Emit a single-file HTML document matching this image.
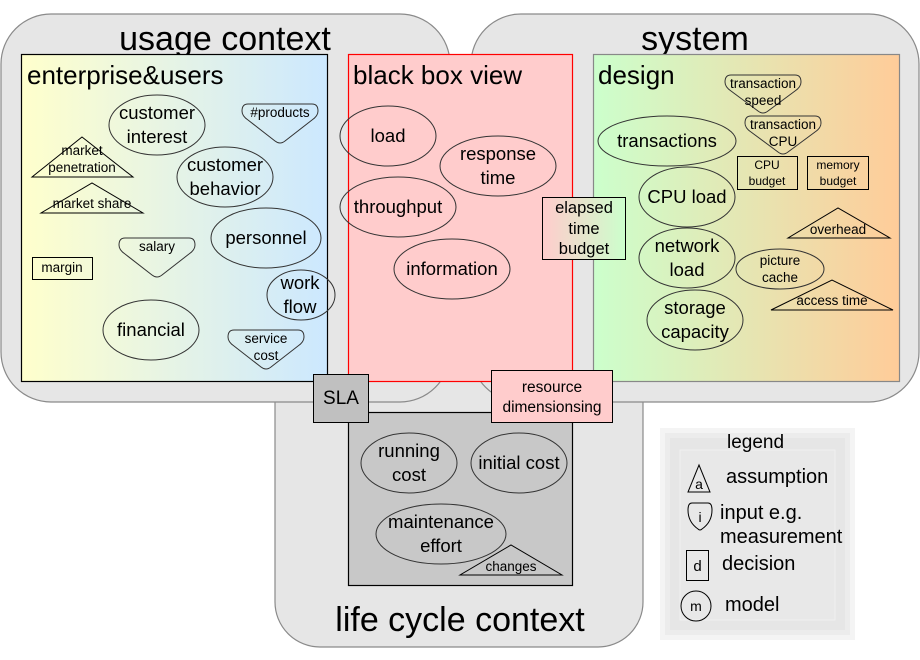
<!DOCTYPE html>
<html><head><meta charset="utf-8"><style>
html,body{margin:0;padding:0;background:#fff}
svg{display:block}
text{font-family:"Liberation Sans",sans-serif;fill:#000}
.s{font-size:18.5px}
.xs{font-size:13.5px}
.t{font-size:34px}
.h{font-size:26px}
</style></head><body>
<svg width="920" height="660" viewBox="0 0 920 660" xmlns="http://www.w3.org/2000/svg">
<defs>
<linearGradient id="gu" x1="0" x2="1" y1="0" y2="0"><stop offset="0" stop-color="#ffffcc"/><stop offset="1" stop-color="#cce8ff"/></linearGradient>
<linearGradient id="gd" x1="0" x2="1" y1="0" y2="0"><stop offset="0" stop-color="#ccffcc"/><stop offset="1" stop-color="#ffcc99"/></linearGradient>
<linearGradient id="ge" x1="0" x2="1" y1="0" y2="0"><stop offset="0" stop-color="#ffcccc"/><stop offset="1" stop-color="#ccffcc"/></linearGradient>
</defs>
<!-- context regions -->
<rect x="275" y="300" width="368" height="347" rx="45" fill="#e6e6e6" stroke="#8a8a8a" stroke-width="1.2"/>
<rect x="1" y="14" width="449" height="388" rx="50" fill="#e6e6e6" stroke="#8a8a8a" stroke-width="1.2"/>
<rect x="471" y="14" width="448" height="388" rx="50" fill="#e6e6e6" stroke="#8a8a8a" stroke-width="1.2"/>
<text class="t" x="225" y="50" text-anchor="middle">usage context</text>
<text class="t" x="695" y="50" text-anchor="middle">system</text>
<text class="t" x="460" y="631" text-anchor="middle">life cycle context</text>

<!-- enterprise & users -->
<rect x="21.5" y="54.5" width="306" height="327" fill="url(#gu)" stroke="#000" stroke-width="1.2"/>
<text class="h" x="27" y="84">enterprise&amp;users</text>
<g fill="none" stroke="#333" stroke-width="1">
<ellipse cx="157" cy="125" rx="48" ry="30"/>
<ellipse cx="225" cy="177" rx="48" ry="30"/>
<ellipse cx="266" cy="238" rx="55" ry="30"/>
<ellipse cx="301" cy="295" rx="34" ry="25"/>
<ellipse cx="151" cy="330" rx="48" ry="30"/>
<path d="M248,104 H312 Q318,104 318,111 Q318,116 312,120 L285,141 Q280,145 275,141 L248,120 Q242,116 242,111 Q242,104 248,104Z"/>
<path d="M125,238 H189 Q195,238 195,245 Q195,250 189,254 L162,275 Q157,279 152,275 L125,254 Q119,250 119,245 Q119,238 125,238Z"/>
<path d="M234,330 H298 Q304,330 304,337 Q304,342 298,346 L271,367 Q266,371 261,367 L234,346 Q228,342 228,337 Q228,330 234,330Z"/>
</g>
<g fill="none" stroke="#000" stroke-width="1">
<polygon points="32,177 133,177 82,137"/>
<polygon points="41,213 143,213 92,183"/>
<rect x="32.5" y="257.5" width="60" height="22"/>
</g>
<text class="s" x="157" y="119" text-anchor="middle">customer</text>
<text class="s" x="157" y="143" text-anchor="middle">interest</text>
<text class="s" x="225" y="171" text-anchor="middle">customer</text>
<text class="s" x="225" y="195" text-anchor="middle">behavior</text>
<text class="s" x="266" y="244" text-anchor="middle">personnel</text>
<text class="s" x="300" y="289" text-anchor="middle">work</text>
<text class="s" x="300" y="313" text-anchor="middle">flow</text>
<text class="s" x="151" y="336" text-anchor="middle">financial</text>
<text class="xs" x="280" y="117" text-anchor="middle">#products</text>
<text class="xs" x="157" y="251" text-anchor="middle">salary</text>
<text class="xs" x="266" y="343" text-anchor="middle">service</text>
<text class="xs" x="266" y="360" text-anchor="middle">cost</text>
<text class="xs" x="82" y="155" text-anchor="middle">market</text>
<text class="xs" x="82" y="172" text-anchor="middle">penetration</text>
<text class="xs" x="92" y="208" text-anchor="middle">market share</text>
<text class="xs" x="62" y="272" text-anchor="middle">margin</text>

<!-- black box -->
<rect x="348.5" y="54.5" width="224" height="327" fill="#ffcccc" stroke="#ff0000" stroke-width="1.2"/>
<text class="h" x="353" y="84">black box view</text>
<g fill="none" stroke="#333" stroke-width="1">
<ellipse cx="388" cy="136" rx="48" ry="30"/>
<ellipse cx="498" cy="166" rx="58" ry="30"/>
<ellipse cx="398" cy="207" rx="58" ry="30"/>
<ellipse cx="452" cy="269" rx="58" ry="30"/>
</g>
<text class="s" x="388" y="142" text-anchor="middle">load</text>
<text class="s" x="498" y="160" text-anchor="middle">response</text>
<text class="s" x="498" y="184" text-anchor="middle">time</text>
<text class="s" x="398" y="213" text-anchor="middle">throughput</text>
<text class="s" x="452" y="275" text-anchor="middle">information</text>

<!-- design -->
<rect x="593.5" y="54.5" width="306" height="327" fill="url(#gd)" stroke="#888" stroke-width="1.2"/>
<text class="h" x="598" y="84">design</text>
<g fill="none" stroke="#333" stroke-width="1">
<ellipse cx="667" cy="141" rx="69" ry="25"/>
<ellipse cx="687" cy="197" rx="48" ry="30"/>
<ellipse cx="687" cy="258" rx="48" ry="30"/>
<ellipse cx="695" cy="320" rx="48" ry="30"/>
<ellipse cx="780" cy="269" rx="44" ry="20"/>
<path d="M731,75 H795 Q801,75 801,82 Q801,87 795,91 L768,111 Q763,115 758,111 L731,91 Q725,87 725,82 Q725,75 731,75Z"/>
<path d="M751,116 H815 Q821,116 821,123 Q821,128 815,132 L788,152 Q783,156 778,152 L751,132 Q745,128 745,123 Q745,116 751,116Z"/>
</g>
<g fill="none" stroke="#000" stroke-width="1">
<rect x="737.5" y="156.5" width="60" height="33"/>
<rect x="807.5" y="156.5" width="61" height="33"/>
<polygon points="788,238 890,238 838,208"/>
<polygon points="771,310 893,310 832,280"/>
</g>
<text class="s" x="667" y="147" text-anchor="middle">transactions</text>
<text class="s" x="687" y="203" text-anchor="middle">CPU load</text>
<text class="s" x="687" y="252" text-anchor="middle">network</text>
<text class="s" x="687" y="276" text-anchor="middle">load</text>
<text class="s" x="695" y="314" text-anchor="middle">storage</text>
<text class="s" x="695" y="338" text-anchor="middle">capacity</text>
<text class="xs" x="780" y="265" text-anchor="middle">picture</text>
<text class="xs" x="780" y="282" text-anchor="middle">cache</text>
<text class="xs" x="763" y="88" text-anchor="middle">transaction</text>
<text class="xs" x="763" y="105" text-anchor="middle">speed</text>
<text class="xs" x="783" y="129" text-anchor="middle">transaction</text>
<text class="xs" x="783" y="146" text-anchor="middle">CPU</text>
<text x="767" y="169" text-anchor="middle" font-size="12">CPU</text>
<text x="767" y="185" text-anchor="middle" font-size="12">budget</text>
<text x="838" y="169" text-anchor="middle" font-size="12">memory</text>
<text x="838" y="185" text-anchor="middle" font-size="12">budget</text>
<text class="xs" x="838" y="234" text-anchor="middle">overhead</text>
<text class="xs" x="832" y="305" text-anchor="middle">access time</text>

<!-- elapsed time budget -->
<rect x="542.5" y="197.5" width="83" height="62" fill="url(#ge)" stroke="#000" stroke-width="1"/>
<text x="584" y="213" text-anchor="middle" font-size="16.5">elapsed</text>
<text x="584" y="234" text-anchor="middle" font-size="16.5">time</text>
<text x="584" y="254" text-anchor="middle" font-size="16.5">budget</text>

<!-- life cycle inner -->
<rect x="348.5" y="412.5" width="224" height="173" fill="#c8c8c8" stroke="#000" stroke-width="1.2"/>
<g fill="none" stroke="#333" stroke-width="1">
<ellipse cx="409" cy="463" rx="48" ry="30"/>
<ellipse cx="519" cy="463" rx="48" ry="30"/>
<ellipse cx="441" cy="534" rx="65" ry="30"/>
</g>
<polygon points="460,575 562,575 511,545" fill="none" stroke="#000" stroke-width="1"/>
<text class="s" x="409" y="457" text-anchor="middle">running</text>
<text class="s" x="409" y="481" text-anchor="middle">cost</text>
<text class="s" x="519" y="469" text-anchor="middle">initial cost</text>
<text class="s" x="441" y="528" text-anchor="middle">maintenance</text>
<text class="s" x="441" y="552" text-anchor="middle">effort</text>
<text class="xs" x="511" y="571" text-anchor="middle">changes</text>

<!-- SLA and resource -->
<rect x="313.5" y="374.5" width="55" height="48" fill="#c0c0c0" stroke="#000" stroke-width="1"/>
<text x="341" y="404" text-anchor="middle" font-size="19">SLA</text>
<rect x="491.5" y="370.5" width="121" height="52" fill="#ffcccc" stroke="#000" stroke-width="1"/>
<text x="552" y="392" text-anchor="middle" font-size="15.5">resource</text>
<text x="552" y="412" text-anchor="middle" font-size="15.5">dimensionsing</text>

<!-- legend -->
<rect x="660" y="428" width="195" height="212" fill="#f4f4f4"/>
<rect x="665" y="433" width="185" height="202" fill="#ececec"/>
<rect x="670" y="438" width="175" height="192" fill="#e6e6e6"/>
<rect x="680" y="450" width="155" height="170" fill="#e8e8e8" stroke="#f0f0f0"/>
<text x="727" y="448" font-size="19">legend</text>
<polygon points="688,492 710,492 699,465" fill="none" stroke="#000" stroke-width="1"/>
<text x="699" y="489" font-size="14" text-anchor="middle">a</text>
<text x="726" y="483" font-size="20">assumption</text>
<path d="M692,503 H708 Q712,503 712,510 Q712,522 702,529 Q700,531 698,529 Q688,522 688,510 Q688,503 692,503Z" fill="none" stroke="#000" stroke-width="1"/>
<text x="700" y="522" font-size="14" text-anchor="middle">i</text>
<text x="720" y="519" font-size="20">input e.g.</text>
<text x="720" y="543" font-size="20">measurement</text>
<rect x="686.5" y="550.5" width="22" height="30" fill="none" stroke="#000" stroke-width="1"/>
<text x="697.5" y="571" font-size="15" text-anchor="middle">d</text>
<text x="722" y="570" font-size="20">decision</text>
<ellipse cx="696" cy="606" rx="15" ry="15" fill="none" stroke="#000" stroke-width="1"/>
<text x="696" y="611" font-size="14" text-anchor="middle">m</text>
<text x="725" y="611" font-size="20">model</text>
</svg>
</body></html>
